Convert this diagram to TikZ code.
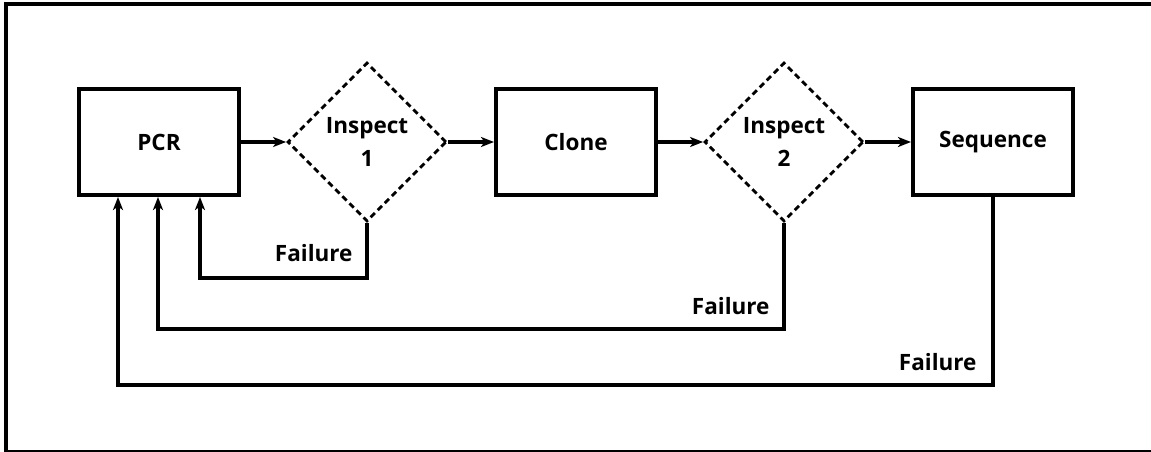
\documentclass[tikz,border=0pt]{standalone}
\usepackage{fontspec}
\setmainfont{Open Sans}
\usetikzlibrary{shapes.geometric,arrows.meta,calc}
\begin{document}
\begin{tikzpicture}[x=1pt,y=-1pt,
  every node/.style={font=\bfseries\fontsize{22.5}{33}\selectfont},
  stage/.style={draw,line width=4pt,minimum width=160pt,minimum height=106pt,inner sep=0pt},
  check/.style={draw,diamond,line width=2.8pt,dash pattern=on 6pt off 4pt,
    minimum width=159pt,minimum height=159pt,inner sep=0pt,align=center},
  flow/.style={line width=3.5pt,-{Stealth[length=13pt,width=10pt,inset=3.5pt]}},
  fail/.style={anchor=east}
]
\useasboundingbox (0,0) rectangle (1151,452);
% outer frame
\draw[line width=4pt] (5.5,4.3) rectangle (1160,451.5);

% process stages and checks
\node[stage] (pcr)  at (159,142) {PCR};
\node[check] (ins1) at (367,142) {Inspect\\1};
\node[stage] (clone) at (576,142) {Clone};
\node[check] (ins2) at (784,142) {Inspect\\2};
\node[stage] (seq)  at (993,142) {Sequence};

% forward flow
\draw[flow] (pcr) -- (ins1);
\draw[flow] (ins1) -- (clone);
\draw[flow] (clone) -- (ins2);
\draw[flow] (ins2) -- (seq);

% return points on the PCR box
\coordinate (r1) at (pcr.south -| 200,0);
\coordinate (r2) at (pcr.south -| 158,0);
\coordinate (r3) at (pcr.south -| 118,0);

% failure loops back to PCR
\draw[flow] (ins1.south) -- ++(0,55) coordinate (c1) -| (r1);
\draw[flow] (ins2.south) -- ++(0,106) coordinate (c2) -| (r2);
\draw[flow] (seq.south) -- ++(0,188) coordinate (c3) -| (r3);

\node[fail] (f1) at ($(c1)+(-11,-25)$) {Failure};
\node[fail] (f2) at ($(c2)+(-11,-23)$) {Failure};
\node[fail] (f3) at ($(c3)+(-13,-23)$) {Failure};
\end{tikzpicture}
\end{document}
